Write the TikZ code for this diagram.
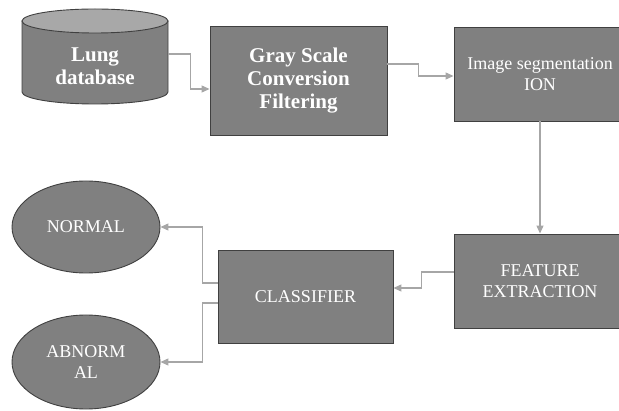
\documentclass[tikz,border=0pt]{standalone}
\usepackage{fontspec}
\setmainfont{Liberation Serif}
\usetikzlibrary{arrows.meta,shapes.geometric}
\definecolor{boxfill}{HTML}{808080}
\definecolor{boxline}{HTML}{404040}
\definecolor{topfill}{HTML}{A8A8A8}
\definecolor{arrowgray}{HTML}{A6A6A6}
\begin{document}
\begin{tikzpicture}[x=1pt, y=1pt,
    box/.style={draw=boxline, line width=0.9pt, fill=boxfill, text=white, align=center, inner sep=0pt},
    bold/.style={font=\fontsize{21}{23}\selectfont\bfseries},
    plain/.style={font=\fontsize{18}{21}\selectfont},
    oval/.style={box, ellipse, minimum width=148pt},
    conn/.style={draw=arrowgray, line width=1.1pt, -{Triangle[length=8pt,width=7pt]}}]
    \useasboundingbox (0,0) rectangle (619,410);
    \clip (0,0) rectangle (619,410);

    % Database cylinder
    \filldraw[fill=boxfill, draw=boxline, line width=0.9pt] (22,389) -- (22,318) arc[start angle=180, end angle=360, x radius=73pt, y radius=12pt] -- (168,389) -- cycle;
    \filldraw[fill=topfill, draw=boxline, line width=0.9pt] (95,389) ellipse [x radius=73pt, y radius=12pt];
    \node[bold, text=white, align=center, inner sep=0pt, minimum width=146pt] (db) at (95,344) {Lung\\database};

    % Processing steps
    \node[box, bold, minimum width=177pt, minimum height=109pt] (gray) at (298.5,329.5) {Gray Scale\\Conversion\\Filtering};
    \node[box, plain, minimum width=172pt, minimum height=94pt] (seg) at (540,336) {Image segmentation\\ION};
    \node[box, plain, minimum width=172pt, minimum height=94pt] (feat) at (540,129) {FEATURE\\EXTRACTION};
    \node[box, plain, minimum width=175pt, minimum height=93pt] (cls) at (305.5,113.5) {CLASSIFIER};

    % Results
    \node[oval, plain, minimum height=92pt] (normal) at (86,183) {NORMAL};
    \node[oval, plain, minimum height=94pt] (abnormal) at (86,48) {ABNORM\\AL};

    % Connectors
    \draw[conn] ([yshift=12pt]db.east) -- ++(22,0) |- ([yshift=-8.5pt]gray.west);
    \draw[conn] ([yshift=16.5pt]gray.east) -- ++(31,0) |- ([yshift=-2pt]seg.west);
    \draw[conn] (seg.south) -- (feat.north);
    \draw[conn] ([yshift=9pt]feat.west) -- ++(-32,0) |- ([yshift=8.5pt]cls.east);
    \draw[conn] ([yshift=13.5pt]cls.west) -- ++(-15,0) |- (normal.east);
    \draw[conn] ([yshift=-6.5pt]cls.west) -- ++(-15,0) |- (abnormal.east);
\end{tikzpicture}
\end{document}
